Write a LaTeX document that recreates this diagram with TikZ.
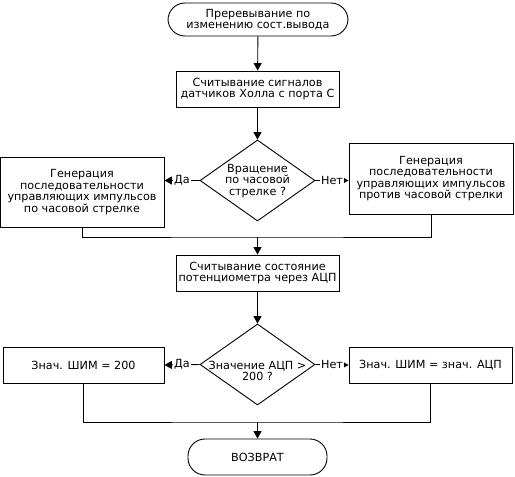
\documentclass[tikz,border=0pt]{standalone}
\usepackage{fontspec}
\setmainfont{DejaVu Sans}
\usetikzlibrary{shapes.geometric,arrows.meta}
\begin{document}
\begin{tikzpicture}[x=1pt,y=-1pt,
  every node/.style={font=\fontsize{11.2}{11.6}\selectfont, align=center, inner sep=0pt},
  lw/.style={line width=0.9pt},
  term/.style={draw, lw, rounded corners=17pt},
  dia/.style={draw, lw, diamond, minimum width=115pt, minimum height=81pt, aspect=1.42},
  arr/.style={lw, -{Triangle[length=7.5pt,width=8pt]}},
  lab/.style={fill=white, inner xsep=1pt, inner ysep=1pt},
  line/.style={lw}]
\useasboundingbox (0,0) rectangle (515,477);
% top terminal
\node[term, minimum width=180pt, minimum height=33pt] (t1) at (258,19.5) {Преревывание по\\изменению сост.вывода};
% box 2
\node[draw, lw, minimum width=163pt, minimum height=36pt] (b2) at (257.5,89) {Считывание сигналов\\датчиков Холла с порта С};
% diamond 1
\node[dia] (d1) at (257.5,180.5) {};
\node (d1t) at (257.5,181) {Вращение\\по часовой\\стрелке ?};
% side boxes 1
\node[draw, lw, minimum width=164pt, minimum height=70pt] (lb1) at (82,192) {Генерация\\последовательности\\управляющих импульсов\\по часовой стрелке};
\node[draw, lw, minimum width=164pt, minimum height=71pt] (rb1) at (431,178.5) {Генерация\\последовательности\\управляющих импульсов\\против часовой стрелки};
% box 3
\node[draw, lw, minimum width=163pt, minimum height=36pt] (b3) at (257.5,273) {Считывание состояние\\потенциометра через АЦП};
% diamond 2
\node[dia] (d2) at (257.5,364.5) {};
\node (d2t) at (257.5,371) {Значение АЦП >\\200 ?};
% side boxes 2
\node[draw, lw, minimum width=161pt, minimum height=36pt] (lb2) at (83.5,365) {Знач. ШИМ = 200};
\node[draw, lw, minimum width=163pt, minimum height=36pt] (rb2) at (430.5,365) {Знач. ШИМ = знач. АЦП};
% end terminal
\node[term, minimum width=139pt, minimum height=36pt] (t2) at (257.5,457) {ВОЗВРАТ};
% junctions
\coordinate (j1) at (257.5,237);
\coordinate (j2) at (257.5,422);
% connectors
\draw[arr] (t1) -- (b2);
\draw[arr] (b2) -- (d1.north);
\draw[arr] (d1.west) -- node[lab]{Да} (lb1.east |- d1.west);
\draw[arr] (d1.east) -- node[lab]{Нет} (rb1.west |- d1.east);
\draw[line] (lb1.south) |- (j1) -| (rb1.south);
\draw[arr] (j1) -- (b3.north);
\draw[arr] (b3) -- (d2.north);
\draw[arr] (d2.west) -- node[lab]{Да} (lb2.east);
\draw[arr] (d2.east) -- node[lab]{Нет} (rb2.west);
\draw[line] (lb2.south) |- (j2) -| (rb2.south);
\draw[arr] (j2) -- (t2.north);
\end{tikzpicture}
\end{document}
